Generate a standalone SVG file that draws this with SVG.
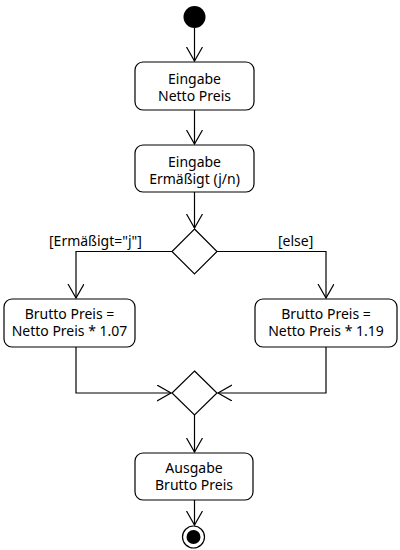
<svg xmlns="http://www.w3.org/2000/svg" width="400" height="550" viewBox="0 0 400 550">
<style>
.box{fill:#fff;stroke:#000;stroke-width:1.2}
.t{font-family:"Noto Sans","Open Sans",sans-serif;font-size:14px;fill:#000;text-anchor:middle}
.l{font-family:"Noto Sans","Open Sans",sans-serif;font-size:14px;fill:#000}
.c{fill:none;stroke:#000;stroke-width:1.2}
</style>
<defs>
<marker id="arr" markerWidth="20" markerHeight="20" refX="14" refY="8" orient="auto" markerUnits="userSpaceOnUse">
<path d="M0,0 L14,8 L0,16" fill="none" stroke="#000" stroke-width="1.2"/>
</marker>
</defs>
<rect width="400" height="550" fill="#fff"/>
<g id="connectors">
<path class="c" d="M194.5,28 V61" marker-end="url(#arr)"/>
<path class="c" d="M194.5,110 V144" marker-end="url(#arr)"/>
<path class="c" d="M194.5,192 V228" marker-end="url(#arr)"/>
<path class="c" d="M172,251.5 H76 V298" marker-end="url(#arr)"/>
<path class="c" d="M217,251.5 H326 V298" marker-end="url(#arr)"/>
<path class="c" d="M76,347 V393 H171" marker-end="url(#arr)"/>
<path class="c" d="M326,347 V393 H218" marker-end="url(#arr)"/>
<path class="c" d="M194.5,415 V452" marker-end="url(#arr)"/>
<path class="c" d="M194.5,500 V525" marker-end="url(#arr)"/>
<text class="l" x="49" y="246">[Ermäßigt="j"]</text>
<text class="l" x="278" y="246">[else]</text>
</g>
<g id="start"><circle cx="194.5" cy="17" r="11" fill="#000"/></g>
<g id="eingabeNetto">
<rect class="box" x="135" y="62" width="119" height="48" rx="8"/>
<text class="t" x="194.5" y="84">Eingabe</text>
<text class="t" x="194.5" y="101">Netto Preis</text>
</g>
<g id="eingabeErm">
<rect class="box" x="135" y="145" width="119" height="47" rx="8"/>
<text class="t" x="194.5" y="167">Eingabe</text>
<text class="t" x="194.5" y="184">Ermäßigt (j/n)</text>
</g>
<g id="decision"><path class="box" d="M194.5,229 L217,251.5 L194.5,274 L172,251.5 Z"/></g>
<g id="bruttoErm">
<rect class="box" x="4" y="299" width="131" height="48" rx="8"/>
<text class="t" x="69.5" y="319">Brutto Preis =</text>
<text class="t" x="69.5" y="336">Netto Preis * 1.07</text>
</g>
<g id="bruttoVoll">
<rect class="box" x="255" y="299" width="142" height="48" rx="8"/>
<text class="t" x="326" y="319">Brutto Preis =</text>
<text class="t" x="326" y="336">Netto Preis * 1.19</text>
</g>
<g id="merge"><path class="box" d="M194.5,371 L217,393 L194.5,415 L172,393 Z"/></g>
<g id="ausgabe">
<rect class="box" x="135" y="453" width="118" height="47" rx="8"/>
<text class="t" x="194" y="473">Ausgabe</text>
<text class="t" x="194" y="490">Brutto Preis</text>
</g>
<g id="end">
<circle cx="193.5" cy="537" r="11" fill="#fff" stroke="#000" stroke-width="1.2"/>
<circle cx="193.5" cy="537" r="7" fill="#000"/>
</g>
</svg>
